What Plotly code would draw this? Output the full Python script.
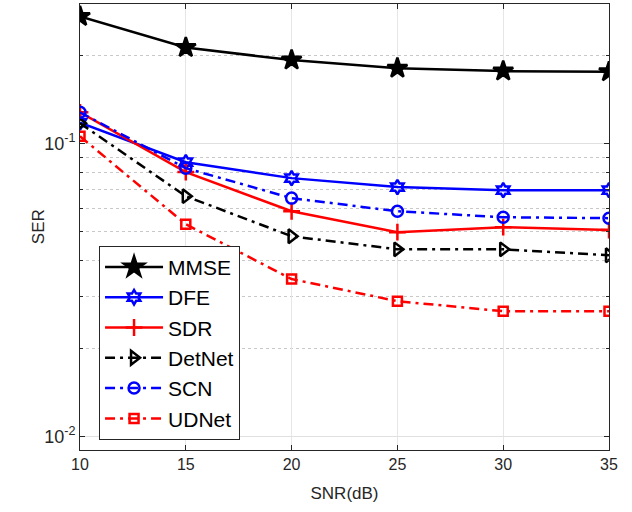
import plotly.graph_objects as go

snr = [10, 15, 20, 25, 30, 35]
mmse = [0.272, 0.213, 0.193, 0.181, 0.177, 0.176]
dfe = [0.118, 0.0865, 0.0763, 0.0711, 0.0694, 0.0694]
sdr = [0.128, 0.080, 0.0588, 0.0499, 0.0519, 0.0507]
detnet = [0.1175, 0.0662, 0.0483, 0.0436, 0.0436, 0.0416]
scn = [0.128, 0.0825, 0.0652, 0.0588, 0.0561, 0.0557]
udnet = [0.106, 0.0531, 0.0345, 0.0290, 0.0268, 0.0268]

DD = "10px,5px,3px,5px"
series = [
    ("MMSE", mmse, "black", "solid", "star", 15),
    ("DFE", dfe, "blue", "solid", "hexagram-open", 11),
    ("SDR", sdr, "red", "solid", "cross-thin-open", 12),
    ("DetNet", detnet, "black", DD, "triangle-right-open", 12),
    ("SCN", scn, "blue", DD, "circle-open", 11),
    ("UDNet", udnet, "red", DD, "square-open", 9),
]

fig = go.Figure()
for i, (name, ys, col, dash, sym, sz) in enumerate(series):
    fig.add_trace(go.Scatter(
        x=snr, y=ys, name=name, mode="lines+markers",
        line=dict(color=col, width=2.5, dash=dash),
        marker=dict(symbol=sym, size=sz, color=col, line=dict(color=col, width=2.5)),
        legendgroup=f"g{i}",
    ))

axcol = "#262626"
fig.update_layout(
    width=632, height=512,
    margin=dict(l=80, r=23, t=4, b=62),
    paper_bgcolor="white", plot_bgcolor="white",
    font=dict(family="Liberation Sans, Arial, sans-serif", size=16, color=axcol),
    showlegend=True,
    legend=dict(
        x=0.036, y=0.458, xanchor="left", yanchor="top",
        bgcolor="white", bordercolor=axcol, borderwidth=1,
        font=dict(size=21, color="black"),
        tracegroupgap=0, itemwidth=58, traceorder="normal",
    ),
    annotations=[dict(text="SER", xref="paper", yref="paper", x=-0.079, y=0.5,
                      xanchor="center", yanchor="middle", textangle=-90,
                      showarrow=False, font=dict(size=17, color=axcol))],
)
fig.update_xaxes(
    range=[10, 35], tickvals=snr, ticks="inside", ticklen=5, tickcolor=axcol,
    showline=True, linecolor=axcol, linewidth=1, mirror="ticks",
    showgrid=True, gridcolor="#e6e6e6", gridwidth=1, zeroline=False,
    tickfont=dict(size=16),
    title=dict(text="SNR(dB)", font=dict(size=17), standoff=14),
)
fig.update_yaxes(
    type="log", range=[-2.0458, -0.5229],
    tickvals=[0.01, 0.1], ticktext=["10<sup>-2</sup>", "10<sup>-1</sup>"],
    ticks="inside", ticklen=5, tickcolor=axcol, tickfont=dict(size=18),
    showline=True, linecolor=axcol, linewidth=1, mirror="ticks",
    showgrid=True, gridcolor="#e0e0e0", gridwidth=1, zeroline=False,
    minor=dict(tickvals=[0.02, 0.03, 0.04, 0.05, 0.06, 0.07, 0.08, 0.09, 0.2, 0.3],
               showgrid=True, griddash="dot", gridcolor="#c8c8c8", gridwidth=1,
               ticks="inside", ticklen=3, tickcolor=axcol),
)

fig.write_html("out.html")
